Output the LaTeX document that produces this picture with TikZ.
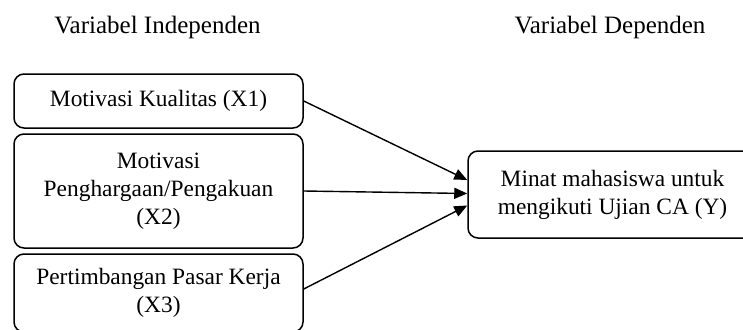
\documentclass[tikz,border=0pt]{standalone}
\usepackage{fontspec}
\setmainfont{Liberation Serif}
\usetikzlibrary{arrows.meta}
\begin{document}
\begin{tikzpicture}[x=1pt, y=-1pt,
        kotak/.style={draw, line width=1.5pt, rounded corners=10pt, align=center, inner sep=0pt, minimum width=289pt, font=\fontsize{23.4}{28}\selectfont},
        judul/.style={anchor=base, font=\fontsize{25}{30}\selectfont},
        panah/.style={-{Triangle[length=13pt,width=11pt]}, line width=1.4pt}]
        \useasboundingbox (0,0) rectangle (743,329);
        \clip (0,0) rectangle (743,329);
        \node[judul] (ind) at (157.5,34) {Variabel Independen};
        \node[judul] (dep) at (610,34) {Variabel Dependen};
        \node[kotak, minimum height=54pt] (x1) at (158.5,101) {Motivasi Kualitas (X1)};
        \node[kotak, minimum height=114pt] (x2) at (158.5,191) {Motivasi\\Penghargaan/Pengakuan\\(X2)};
        \node[kotak, minimum height=78pt] (x3) at (158.5,293) {Pertimbangan Pasar Kerja\\(X3)};
        \node[kotak, minimum height=87pt] (minat) at (612.5,194.5) {Minat mahasiswa untuk\\mengikuti Ujian CA (Y)};
        \draw[panah] (x1.east) -- ([yshift=14.5pt]minat.west);
        \draw[panah] (x2.east) -- ([yshift=1pt]minat.west);
        \draw[panah] ([yshift=4pt]x3.east) -- ([yshift=-11pt]minat.west);
    \end{tikzpicture}
\end{document}
